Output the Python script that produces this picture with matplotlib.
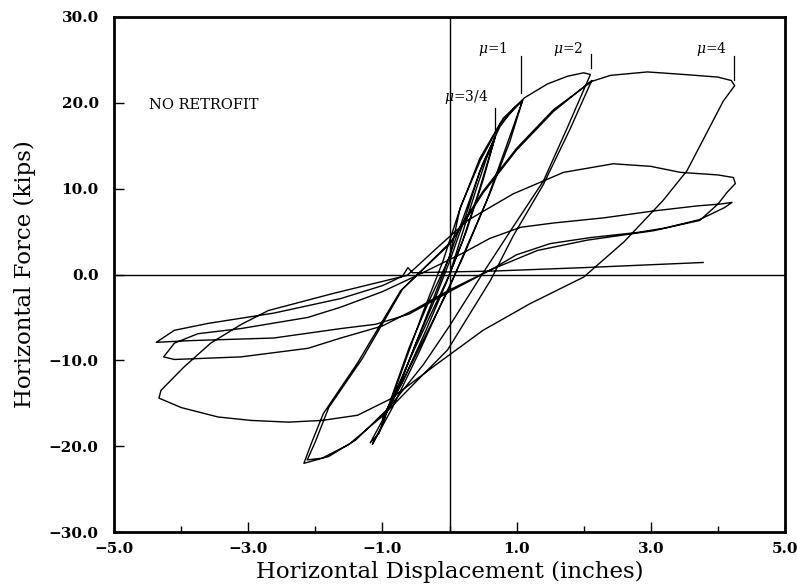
import numpy as np
import matplotlib
matplotlib.use("Agg")
import matplotlib.pyplot as plt

plt.rcParams["font.family"] = "DejaVu Serif"
plt.rcParams["mathtext.fontset"] = "dejavuserif"

# hysteresis trace (inches, kips)
mu34_x = [0.0, 0.2, 0.4, 0.55, 0.68, 0.5, 0.25, 0.0, -0.3, -0.6, -0.85, -0.98,
          -0.75, -0.5, -0.25, 0.0, 0.25, 0.45, 0.68, 0.45, 0.2, -0.05, -0.35,
          -0.7, -1.0, -0.7, -0.4, -0.1, 0.2, 0.5, 0.75]
mu34_y = [0.0, 5.0, 10.0, 13.5, 16.0, 11.0, 5.0, 0.0, -5.0, -10.0, -14.5, -16.5,
          -13.0, -8.0, -3.5, 1.5, 7.0, 12.0, 16.0, 10.0, 4.0, -1.0, -6.5,
          -12.5, -16.8, -12.0, -6.0, 0.0, 6.5, 13.0, 17.2]

mu1_x = [0.95, 1.09, 0.9, 0.6, 0.25, 0.0, -0.35, -0.7, -1.0, -1.18,
         -1.05, -0.85, -0.6, -0.3, 0.0, 0.16, 0.46, 0.76, 1.09,
         0.85, 0.55, 0.2, -0.1, -0.45, -0.85, -1.15,
         -1.0, -0.7, -0.4, -0.1, 0.15, 0.45, 0.8, 1.12]
mu1_y = [19.3, 20.3, 15.5, 9.4, 3.1, -1.5, -7.0, -12.5, -17.0, -19.6,
         -18.5, -14.0, -8.5, -3.0, 2.0, 7.8, 13.3, 17.6, 20.3,
         15.0, 8.5, 2.0, -3.0, -9.0, -15.5, -19.8,
         -17.5, -11.0, -4.5, 1.5, 7.5, 13.5, 18.2, 20.6]

mu2_x = [1.46, 1.76, 2.0, 2.1, 1.75, 1.4, 0.91, 0.46, 0.0, -0.39, -0.9, -1.4,
         -1.8, -2.17, -2.05, -1.88, -1.37, -0.73, 0.01, 0.5, 1.0, 1.55, 2.12,
         1.8, 1.4, 0.95, 0.61, -0.03, -0.5, -1.0, -1.5, -1.9, -2.12,
         -2.0, -1.8, -1.3, -0.7, 0.02, 0.5, 1.0, 1.55, 2.12]
mu2_y = [22.2, 23.1, 23.5, 23.3, 17.0, 10.9, 5.1, -0.3, -6.0, -10.5, -15.5, -19.3,
         -21.2, -22.0, -19.5, -16.2, -10.3, -1.9, 3.6, 9.5, 14.5, 19.0, 22.6,
         17.0, 10.5, 4.5, -0.7, -8.8, -12.5, -16.5, -19.8, -21.4, -21.6,
         -19.5, -15.5, -9.8, -1.7, 3.8, 9.7, 14.7, 19.2, 22.5]

mu4a_x = [2.4, 2.95, 3.5, 4.0, 4.2, 4.25, 4.08, 3.54, 3.18, 2.6, 2.0, 1.2, 0.5,
          -0.2, -0.88, -1.37, -1.9, -2.4, -2.96, -3.45, -4.0, -4.33,
          -4.3, -3.96, -3.56, -3.1, -2.7, -1.73, -1.1, -0.63, -0.2, 0.27,
          0.95, 1.7, 2.44, 3.0, 3.44, 4.0, 4.23, 4.26]
mu4a_y = [23.2, 23.6, 23.3, 23.0, 22.6, 22.0, 20.2, 12.1, 8.6, 3.8, -0.3, -3.4, -6.5,
          -10.5, -14.5, -16.4, -17.0, -17.2, -17.0, -16.6, -15.5, -14.4,
          -13.5, -10.8, -8.0, -5.8, -4.2, -2.2, -1.0, -0.1, 3.0, 6.3,
          9.4, 11.9, 12.9, 12.6, 11.9, 11.6, 11.3, 10.6]

mu4b_x = [4.14, 4.0, 3.73, 3.04, 2.05, 1.31, 0.6, 0.0, -0.5, -1.0, -1.62, -2.11,
          -3.11, -4.1, -4.26, -4.1, -3.75, -3.11, -2.11, -1.62, -1.0, -0.4,
          0.2, 0.6, 1.06, 1.55, 2.3, 3.04, 3.7, 4.03, 4.21]
mu4b_y = [9.6, 8.2, 6.3, 5.1, 4.0, 2.8, 0.5, -1.8, -4.0, -6.0, -7.4, -8.6,
          -9.6, -9.9, -9.6, -8.0, -6.9, -6.3, -5.0, -3.8, -2.0, 0.2,
          2.5, 4.2, 5.5, 6.0, 6.6, 7.4, 8.0, 8.2, 8.4]

mu4c_x = [4.1, 3.73, 3.2, 2.8, 2.1, 1.5, 1.0, 0.65, 0.0, -0.6, -1.1, -1.62,
          -2.62, -3.85, -4.37, -4.1, -3.6, -2.62, -1.62, -1.0, -0.7, -0.62,
          -0.55, 0.0, 0.65, 2.0, 3.78]
mu4c_y = [7.8, 6.4, 5.4, 4.9, 4.3, 3.6, 2.3, 0.7, -2.0, -4.6, -5.8, -6.3,
          -7.4, -7.7, -7.9, -6.5, -5.7, -4.5, -2.8, -1.3, -0.2, 0.8,
          0.2, 0.3, 0.4, 0.8, 1.4]

# ductility markers: label, text position, marker x, marker y-range
mu_labels = [r"$\mu$=3/4", r"$\mu$=1", r"$\mu$=2", r"$\mu$=4"]
mu_text_x = [0.25, 0.65, 1.76, 3.9]
mu_text_y = [20.7, 26.3, 26.3, 26.3]
mu_tick_x = [0.68, 1.07, 2.11, 4.24]
mu_tick_y0 = [16.5, 21.2, 24.1, 22.7]
mu_tick_y1 = [19.4, 25.5, 25.7, 25.5]

disp = np.concatenate([mu34_x, mu1_x, mu2_x, mu4a_x, mu4b_x, mu4c_x])
force = np.concatenate([mu34_y, mu1_y, mu2_y, mu4a_y, mu4b_y, mu4c_y])

fig = plt.figure(figsize=(7.97, 5.86), dpi=100)
ax = fig.add_axes([114 / 797, 1 - 532 / 586, 671 / 797, 515 / 586])

ax.axhline(0, color="k", lw=1.0)
ax.axvline(0, color="k", lw=1.0)
ax.plot(disp, force, color="k", lw=1.0)

for lab, tx, ty, mx, y0, y1 in zip(mu_labels, mu_text_x, mu_text_y,
                                    mu_tick_x, mu_tick_y0, mu_tick_y1):
    ax.plot([mx, mx], [y0, y1], color="k", lw=0.9)
    ax.text(tx, ty, lab, ha="center", va="center", fontsize=10)

ax.text(-4.48, 19.8, "NO RETROFIT", ha="left", va="center", fontsize=10.5)

ax.set_xlim(-5, 5)
ax.set_ylim(-30, 30)
ax.set_xticks([-5, -3, -1, 1, 3, 5])
ax.set_xticks([-4, -2, 0, 2, 4], minor=True)
ax.set_yticks([-30, -20, -10, 0, 10, 20, 30])
ax.set_xticklabels(["\u22125.0", "\u22123.0", "\u22121.0", "1.0", "3.0", "5.0"],
                   fontweight="bold", fontsize=11)
ax.set_yticklabels(["\u221230.0", "\u221220.0", "\u221210.0", "0.0", "10.0", "20.0", "30.0"],
                   fontweight="bold", fontsize=11)
ax.tick_params(axis="x", direction="in", length=7, width=1, pad=7)
ax.tick_params(axis="y", direction="in", length=7, width=1, pad=11)
ax.tick_params(which="minor", direction="in", length=4, width=1)
for s in ax.spines.values():
    s.set_linewidth(2)

ax.set_xlabel("Horizontal Displacement (inches)", fontsize=16.5, labelpad=4)
ax.set_ylabel("Horizontal Force (kips)", fontsize=16.5, labelpad=9)

fig.savefig("out.png", dpi=100)
